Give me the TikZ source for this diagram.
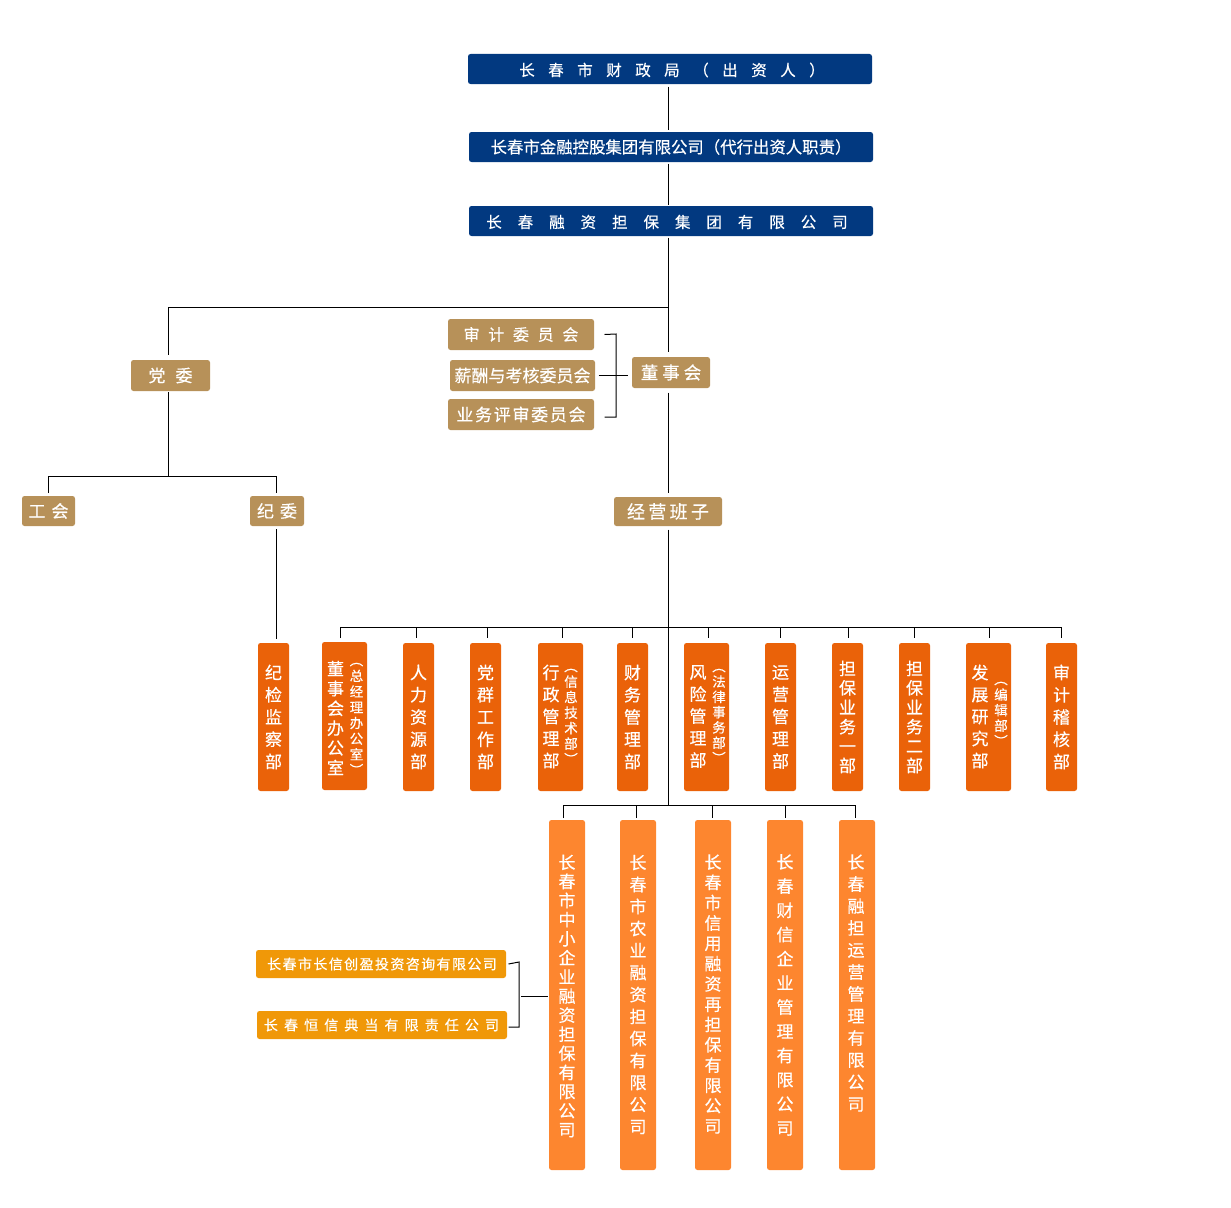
\documentclass[tikz,border=0pt]{standalone}
\usepackage{fontspec}
\setmainfont{Noto Sans CJK SC}[FakeBold=0.4]
\definecolor{navy}{RGB}{2,57,128}
\definecolor{tan}{RGB}{183,145,89}
\definecolor{dept}{RGB}{234,98,9}
\definecolor{subco}{RGB}{253,134,47}
\definecolor{small}{RGB}{240,152,8}
\newcommand{\fs}[2]{\fontsize{#1}{#2}\selectfont}
\newlength{\cw}
\newcommand{\cb}[1]{\makebox[\cw]{#1}}
\begin{document}
\begin{tikzpicture}[x=1pt,y=-1pt,line width=1pt,
  box/.style={rounded corners=2.5pt,inner sep=0pt,text=white,draw=none},
  navybox/.style={box,fill=navy,minimum width=404,minimum height=30,font=\fs{15.5}{18}},
  tanbox/.style={box,fill=tan,minimum height=31,font=\fs{17}{19}},
  deptbox/.style={box,fill=dept,minimum height=148},
  subbox/.style={box,fill=subco,minimum width=36,minimum height=350},
  smallbox/.style={box,fill=small,minimum width=250,minimum height=28},
  vtxt/.style={inner sep=0pt,align=center,text=white},
  conn/.style={line width=1pt,draw=black}]
\useasboundingbox (0,0) rectangle (1231,1207);
\coordinate (spine) at (668,0);
% top chain
\node[navybox] (a1) at (670,69) {};
\node[inner sep=0pt,text=white,font=\fs{15.5}{18}] (ta1) at (672,70) {\setlength{\cw}{29pt}\cb{长}\cb{春}\cb{市}\cb{财}\cb{政}\cb{局}\cb{（}\cb{出}\cb{资}\cb{人}\cb{）}};
\node[navybox,font=\fs{16.4}{18}] (a2) at (671,147) {长春市金融控股集团有限公司（代行出资人职责）};
\node[navybox] (a3) at (671,221) {};
\node[inner sep=0pt,text=white,font=\fs{15.5}{18}] (ta3) at (667,222) {\setlength{\cw}{31.45pt}\cb{长}\cb{春}\cb{融}\cb{资}\cb{担}\cb{保}\cb{集}\cb{团}\cb{有}\cb{限}\cb{公}\cb{司}};
% tan boxes
\node[tanbox,minimum width=79] (dw) at (170.5,375.5) {党\hspace{10pt}委};
\node[tanbox,minimum width=146,font=\fs{16}{18}] (sj) at (521,334.5) {审\hspace{8.7pt}计\hspace{8.7pt}委\hspace{8.7pt}员\hspace{8.7pt}会};
\node[tanbox,minimum width=145] (xc) at (522.5,375.5) {薪酬与考核委员会};
\node[tanbox,minimum width=146] (yw) at (521,414.5) {业\hspace{1.7pt}务\hspace{1.7pt}评\hspace{1.7pt}审\hspace{1.7pt}委\hspace{1.7pt}员\hspace{1.7pt}会};
\node[tanbox,minimum width=78,font=\fs{17.5}{19}] (dsh) at (671,372.5) {董\hspace{4pt}事\hspace{4pt}会};
\node[tanbox,minimum width=53,minimum height=30] (gh) at (48.5,511) {工\hspace{6pt}会};
\node[tanbox,minimum width=54,minimum height=30] (jw) at (277,511) {纪\hspace{6pt}委};
\node[tanbox,minimum width=108,minimum height=29,font=\fs{18}{20}] (jy) at (668,511.5) {经\hspace{3.3pt}营\hspace{3.3pt}班\hspace{3.3pt}子};
% connectors top
\draw[conn,shorten <=2pt,shorten >=2pt] (a1.south -| spine) -- (a2.north -| spine);
\draw[conn,shorten <=1pt,shorten >=1pt] (a2.south -| spine) -- (a3.north -| spine);
\draw[conn,shorten <=1pt,shorten >=5pt] (a3.south -| spine) -- (dsh.north -| spine);
\coordinate (j1) at (668,307);
\draw[conn,shorten >=5pt] (j1) -- (168,307) -- (168,360);
\draw[conn,shorten <=4pt,shorten >=4pt] (dsh.south -| spine) -- (jy.north -| spine);
\draw[conn] ([xshift=10pt]sj.east) -- (616,334) -- (616,417) -- ([xshift=10pt]yw.east |- 0,417);
\draw[conn] ([xshift=3pt]xc.east |- 0,375) -- ([xshift=-4pt]dsh.west |- 0,375);
\coordinate (j2) at (168,476);
\draw[conn,shorten <=1pt] (168,391) -- (j2);
\draw[conn,shorten <=3pt,shorten >=3pt] (48,496) -- (48,476) -- (276,476) -- (276,496);
\draw[conn,shorten <=3pt,shorten >=4pt] (276,526) -- (276,643);
% spine down
\coordinate (j3) at (668,805);
\draw[conn,shorten <=3pt] (jy.south -| spine) -- (j3);
% departments
\node[deptbox,minimum width=31] (dj) at (273.5,717) {};
\node[vtxt,font=\fs{17}{22.25}] (tdj) at (dj.center) {纪\\检\\监\\察\\部};
\node[deptbox,minimum width=45] (d1) at (344.5,716) {};
\node[vtxt,font=\fs{17}{19.8}] (td1) at (335.5,718) {董\\事\\会\\办\\公\\室};
\node[vtxt,font=\fs{13.5}{15.7}] (sd1) at (356.5,719) {︵\\总\\经\\理\\办\\公\\室\\︶};
\node[deptbox,minimum width=31] (d2) at (418.5,717) {};
\node[vtxt,font=\fs{17}{22.25}] (td2) at (d2.center) {人\\力\\资\\源\\部};
\node[deptbox,minimum width=31] (d3) at (485.5,717) {};
\node[vtxt,font=\fs{17}{22.25}] (td3) at (d3.center) {党\\群\\工\\作\\部};
\node[deptbox,minimum width=45] (d4) at (560.5,717) {};
\node[vtxt,font=\fs{17}{22}] (td4) at (551,716.5) {行\\政\\管\\理\\部};
\node[vtxt,font=\fs{13.5}{15.5}] (sd4) at (571,716.5) {︵\\信\\息\\技\\术\\部\\︶};
\node[deptbox,minimum width=31] (d5) at (632.5,717) {};
\node[vtxt,font=\fs{17}{22.25}] (td5) at (d5.center) {财\\务\\管\\理\\部};
\node[deptbox,minimum width=45] (d6) at (706.5,717) {};
\node[vtxt,font=\fs{17}{22}] (td6) at (698,716.5) {风\\险\\管\\理\\部};
\node[vtxt,font=\fs{13.5}{15.3}] (sd6) at (719,716) {︵\\法\\律\\事\\务\\部\\︶};
\node[deptbox,minimum width=31] (d7) at (780.5,717) {};
\node[vtxt,font=\fs{17}{22.25}] (td7) at (d7.center) {运\\营\\管\\理\\部};
\node[deptbox,minimum width=31] (d8) at (847.5,717) {};
\node[vtxt,font=\fs{17}{19.4}] (td8) at (d8.center) {担\\保\\业\\务\\一\\部};
\node[deptbox,minimum width=31] (d9) at (914.5,717) {};
\node[vtxt,font=\fs{17}{19.4}] (td9) at (d9.center) {担\\保\\业\\务\\二\\部};
\node[deptbox,minimum width=45] (d10) at (988.5,717) {};
\node[vtxt,font=\fs{17}{22}] (td10) at (980,716.5) {发\\展\\研\\究\\部};
\node[vtxt,font=\fs{13.5}{15.5}] (sd10) at (1001,714) {︵\\编\\辑\\部\\︶};
\node[deptbox,minimum width=31] (d11) at (1061.5,717) {};
\node[vtxt,font=\fs{17}{22.25}] (td11) at (d11.center) {审\\计\\稽\\核\\部};
% department bar
\draw[conn] (340,638) -- (340,627) -- (1061,627) -- (1061,638);
\foreach \xx in {416,487,562,632,708,780,848,914,989}
  \draw[conn] (\xx,627) -- (\xx,638);
% subsidiaries
\node[subbox] (s1) at (567,995) {};
\node[vtxt,font=\fs{17}{19.1}] (ts1) at (567,996) {长\\春\\市\\中\\小\\企\\业\\融\\资\\担\\保\\有\\限\\公\\司};
\node[subbox] (s2) at (638,995) {};
\node[vtxt,font=\fs{17}{22}] (ts2) at (638,994.5) {长\\春\\市\\农\\业\\融\\资\\担\\保\\有\\限\\公\\司};
\node[subbox] (s3) at (713,995) {};
\node[vtxt,font=\fs{17}{20.3}] (ts3) at (713,994) {长\\春\\市\\信\\用\\融\\资\\再\\担\\保\\有\\限\\公\\司};
\node[subbox] (s4) at (785,995) {};
\node[vtxt,font=\fs{17}{24.2}] (ts4) at (785,995) {长\\春\\财\\信\\企\\业\\管\\理\\有\\限\\公\\司};
\node[subbox] (s5) at (857,995) {};
\node[vtxt,font=\fs{17}{22}] (ts5) at (856,983) {长\\春\\融\\担\\运\\营\\管\\理\\有\\限\\公\\司};
\draw[conn] (563,818) -- (563,805) -- (855,805) -- (855,818);
\foreach \xx in {636,712,785}
  \draw[conn] (\xx,805) -- (\xx,818);
% small boxes
\node[smallbox] (c1) at (381,964) {};
\node[inner sep=0pt,text=white,font=\fs{14}{16}] (tc1) at (382,964) {\setlength{\cw}{15.4pt}\cb{长}\cb{春}\cb{市}\cb{长}\cb{信}\cb{创}\cb{盈}\cb{投}\cb{资}\cb{咨}\cb{询}\cb{有}\cb{限}\cb{公}\cb{司}};
\node[smallbox] (c2) at (382,1025) {};
\node[inner sep=0pt,text=white,font=\fs{14}{16}] (tc2) at (381.5,1025) {\setlength{\cw}{20.1pt}\cb{长}\cb{春}\cb{恒}\cb{信}\cb{典}\cb{当}\cb{有}\cb{限}\cb{责}\cb{任}\cb{公}\cb{司}};
\draw[conn] ([xshift=2pt]c1.east) -- (519,962) -- (519,1027) -- ([xshift=1pt]c2.east |- 0,1027);
\coordinate (bm) at (521,996);
\draw[conn,shorten >=1pt] (bm) -- (bm -| s1.west);
\end{tikzpicture}
\end{document}
